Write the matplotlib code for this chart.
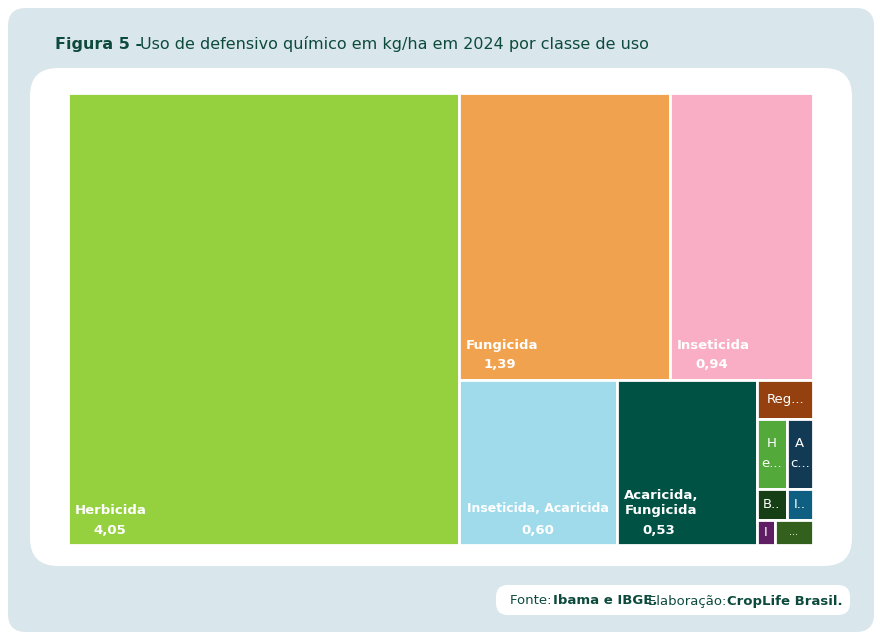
import matplotlib.pyplot as plt
from matplotlib.patches import FancyBboxPatch, Rectangle

labels = ['Herbicida', 'Fungicida', 'Inseticida', 'Inseticida, Acaricida', 'Acaricida,\nFungicida']
values = [4.05, 1.39, 0.94, 0.60, 0.53]
shown = ['4,05', '1,39', '0,94', '0,60', '0,53']
colors = ['#95d13f', '#f0a24e', '#f9aec6', '#9fdbeb', '#005245']

# small classes, grouped in rows as in the reference
small_labels = [['Reg...'], ['H\ne...', 'A\nc...'], ['B..', 'I..'], ['I', '...']]
small_values = [[0.050], [0.047, 0.042], [0.021, 0.019], [0.010, 0.022]]
small_colors = [['#94400f'], ['#53a93a', '#133a55'], ['#173f15', '#0e5f82'], ['#5f1e63', '#33601c']]


def worst(row, w):
    s = sum(row)
    return max(max(w * w * r / (s * s), s * s / (w * w * r)) for r in row)


def layout_row(row, x, y, dx, dy):
    s = sum(row)
    rects = []
    if dx >= dy:  # column on the left
        cw = s / dy
        yy = y + dy
        for r in row:
            h = r / cw
            yy -= h
            rects.append((x, yy, cw, h))
        return rects, (x + cw, y, dx - cw, dy)
    rh = s / dx  # row on top
    xx = x
    for r in row:
        w = r / rh
        rects.append((xx, y + dy - rh, w, rh))
        xx += w
    return rects, (x, y, dx, dy - rh)


def squarify(vals, x, y, dx, dy):
    tot = sum(vals)
    areas = [v * dx * dy / tot for v in vals]
    rects, row = [], []
    i = 0
    while i < len(areas):
        w = min(dx, dy)
        if not row or worst(row + [areas[i]], w) <= worst(row, w):
            row.append(areas[i])
            i += 1
        else:
            r, (x, y, dx, dy) = layout_row(row, x, y, dx, dy)
            rects += r
            row = []
    if row:
        rects += layout_row(row, x, y, dx, dy)[0]
    return rects


fig = plt.figure(figsize=(8.82, 6.40), dpi=100)
bg = fig.add_axes([0, 0, 1, 1])
bg.set_xlim(0, 882)
bg.set_ylim(640, 0)
bg.axis('off')
bg.add_patch(FancyBboxPatch((8, 8), 866, 624, boxstyle='round,pad=0,rounding_size=18',
                            fc='#d9e6ec', ec='none'))
bg.add_patch(FancyBboxPatch((30, 68), 822, 498, boxstyle='round,pad=0,rounding_size=28',
                            fc='white', ec='none'))
bg.add_patch(FancyBboxPatch((496, 585), 354, 30, boxstyle='round,pad=0,rounding_size=12',
                            fc='white', ec='none'))
bg.text(55, 44, 'Figura 5 - ', fontsize=11.5, fontweight='bold', color='#0d4a3d', va='center')
bg.text(140, 44, 'Uso de defensivo químico em kg/ha em 2024 por classe de uso',
        fontsize=11.5, color='#0d4a3d', va='center')
bg.text(510, 601, 'Fonte: ', fontsize=9.5, color='#0d4a3d', va='center')
bg.text(553, 601, 'Ibama e IBGE.', fontsize=9.5, fontweight='bold', color='#0d4a3d', va='center')
bg.text(648, 601, 'Elaboração: ', fontsize=9.5, color='#0d4a3d', va='center')
bg.text(727, 601, 'CropLife Brasil.', fontsize=9.5, fontweight='bold', color='#0d4a3d', va='center')

ax = fig.add_axes([68 / 882, 95 / 640, 745 / 882, 452 / 640])
ax.set_xlim(0, 745)
ax.set_ylim(0, 452)
ax.axis('off')
small_total = sum(sum(r) for r in small_values)
rects = squarify(values + [small_total], 0, 0, 745, 452)
for i, (x, y, w, h) in enumerate(rects[:-1]):
    ax.add_patch(Rectangle((x, y), w, h, fc=colors[i], ec='white', lw=2))
    if i == 3:
        ax.text(x + w / 2, y + 36, labels[i], ha='center', va='center', color='white',
                fontsize=9, fontweight='bold')
        ax.text(x + w / 2, y + 15, shown[i], ha='center', va='center', color='white',
                fontsize=9.5, fontweight='bold')
    else:
        ax.text(x + 7, y + 28, labels[i], ha='left', va='bottom', color='white',
                fontsize=9.5, fontweight='bold')
        ax.text(x + 25, y + 15, shown[i], ha='left', va='center', color='white',
                fontsize=9.5, fontweight='bold')

# small classes: rows stacked top to bottom, each split left to right
sx, sy, sw, sh = rects[-1]
top = sy + sh
for rl, rv, rc in zip(small_labels, small_values, small_colors):
    rh = sh * sum(rv) / small_total
    top -= rh
    xx = sx
    for lab, v, c in zip(rl, rv, rc):
        w = sw * v / sum(rv)
        ax.add_patch(Rectangle((xx, top), w, rh, fc=c, ec='white', lw=2))
        ax.text(xx + w / 2, top + rh / 2, lab, ha='center', va='center', color='white',
                fontsize=9.5 if lab != '...' else 7, linespacing=1.7)
        xx += w

fig.savefig('out.png', dpi=100)
